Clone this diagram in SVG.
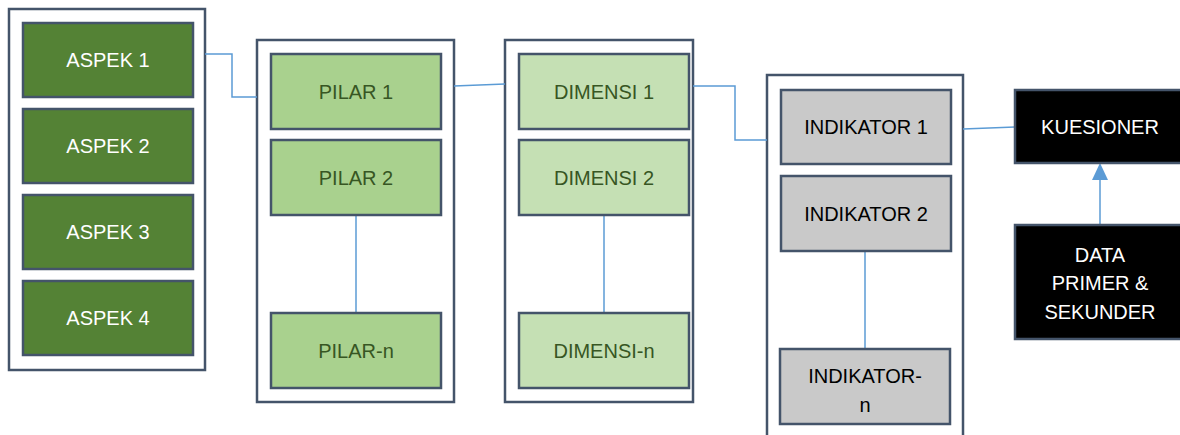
<svg xmlns="http://www.w3.org/2000/svg" width="1180" height="435" viewBox="0 0 1180 435">
<defs>
<style>
.cont{fill:#ffffff;stroke:#44546A;stroke-width:2.5}
.box{stroke:#44546A;stroke-width:2.5}
.aspek{fill:#548235}
.pilar{fill:#A9D18E}
.dim{fill:#C5E0B4}
.ind{fill:#C9C9C9}
.blk{fill:#000000}
text{font-family:"Liberation Sans",Arial,sans-serif;font-size:20px;text-anchor:middle}
.tw{fill:#ffffff}
.tg{fill:#375623}
.tk{fill:#000000}
.con{fill:none;stroke:#5B9BD5;stroke-width:1.5}
</style>
<marker id="arr" viewBox="0 0 16 17" refX="8" refY="0" markerWidth="16" markerHeight="17" markerUnits="userSpaceOnUse" orient="auto-start-reverse">
<path d="M0,17 L8,0 L16,17 Z" fill="#5B9BD5"/>
</marker>
</defs>
<rect width="1180" height="435" fill="#ffffff"/>
<g id="containers">
<rect id="aspek-group" class="cont" x="9" y="9" width="196" height="361"/>
<rect id="pilar-group" class="cont" x="257" y="40" width="197" height="362"/>
<rect id="dimensi-group" class="cont" x="505" y="40" width="188" height="362"/>
<rect id="indikator-group" class="cont" x="767" y="75" width="196" height="380"/>
</g>
<g id="connectors">
<polyline class="con" points="205,54 232,54 232,97 257,97"/>
<polyline class="con" points="454,86 505,84"/>
<polyline class="con" points="693,86 735,86 735,140 767,140"/>
<polyline class="con" points="963,129 1015,127"/>
<line class="con" x1="356" y1="215" x2="356" y2="313"/>
<line class="con" x1="604" y1="215" x2="604" y2="313"/>
<line class="con" x1="865" y1="251" x2="865" y2="349"/>
<line class="con" x1="1100" y1="225" x2="1100" y2="179"/>
<path d="M1092,180 L1100,163 L1108,180 Z" fill="#5B9BD5"/>
</g>
<g id="aspek1"><rect class="box aspek" x="23" y="23" width="170" height="74"/><text class="tw" x="108" y="67">ASPEK 1</text></g>
<g id="aspek2"><rect class="box aspek" x="23" y="109" width="170" height="74"/><text class="tw" x="108" y="153">ASPEK 2</text></g>
<g id="aspek3"><rect class="box aspek" x="23" y="195" width="170" height="74"/><text class="tw" x="108" y="239">ASPEK 3</text></g>
<g id="aspek4"><rect class="box aspek" x="23" y="281" width="170" height="74"/><text class="tw" x="108" y="325">ASPEK 4</text></g>
<g id="pilar1"><rect class="box pilar" x="271" y="54" width="170" height="75"/><text class="tg" x="356" y="99">PILAR 1</text></g>
<g id="pilar2"><rect class="box pilar" x="271" y="140" width="170" height="75"/><text class="tg" x="356" y="185">PILAR 2</text></g>
<g id="pilarn"><rect class="box pilar" x="271" y="313" width="170" height="75"/><text class="tg" x="356" y="358">PILAR-n</text></g>
<g id="dimensi1"><rect class="box dim" x="519" y="54" width="170" height="75"/><text class="tg" x="604" y="99">DIMENSI 1</text></g>
<g id="dimensi2"><rect class="box dim" x="519" y="140" width="170" height="75"/><text class="tg" x="604" y="185">DIMENSI 2</text></g>
<g id="dimensin"><rect class="box dim" x="519" y="313" width="170" height="75"/><text class="tg" x="604" y="358">DIMENSI-n</text></g>
<g id="indikator1"><rect class="box ind" x="781" y="90" width="170" height="74"/><text class="tk" x="866" y="134">INDIKATOR 1</text></g>
<g id="indikator2"><rect class="box ind" x="781" y="176" width="170" height="75"/><text class="tk" x="866" y="221">INDIKATOR 2</text></g>
<g id="indikatorn"><rect class="box ind" x="780" y="349" width="170" height="75"/><text class="tk" x="865" y="383">INDIKATOR-</text><text class="tk" x="865" y="412">n</text></g>
<g id="kuesioner"><rect class="box blk" x="1015" y="90" width="170" height="73"/><text class="tw" x="1100" y="134">KUESIONER</text></g>
<g id="data"><rect class="box blk" x="1015" y="225" width="170" height="114"/><text class="tw" x="1100" y="262">DATA</text><text class="tw" x="1100" y="290">PRIMER &amp;</text><text class="tw" x="1100" y="319">SEKUNDER</text></g>
</svg>
